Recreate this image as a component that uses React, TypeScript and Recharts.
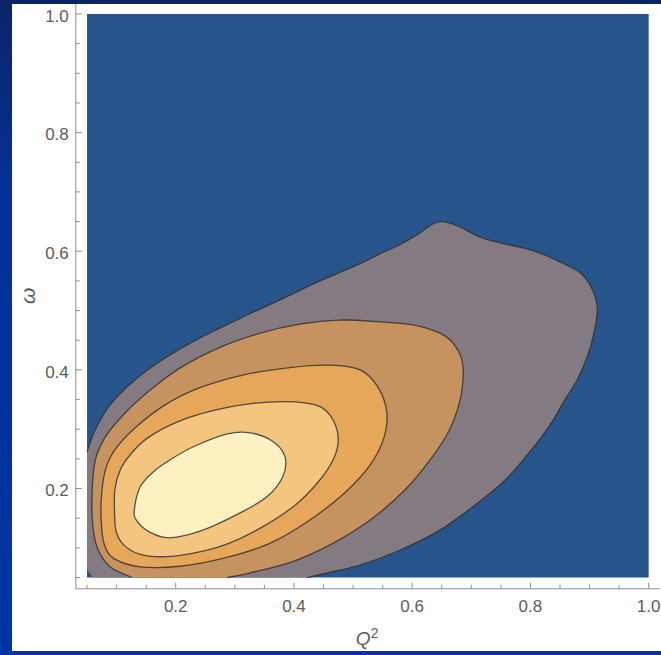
import React from "react";
import { ScatterChart, Scatter, XAxis, YAxis, Label } from "recharts";

type Pt = { x: number; y: number };

// axis ticks (minor every 0.05, labelled every 0.2)
const q2Ticks = [0.05, 0.1, 0.15, 0.2, 0.25, 0.3, 0.35, 0.4, 0.45, 0.5, 0.55, 0.6, 0.65, 0.7, 0.75, 0.8, 0.85, 0.9, 0.95, 1.0];
const omegaTicks = [0.05, 0.1, 0.15, 0.2, 0.25, 0.3, 0.35, 0.4, 0.45, 0.5, 0.55, 0.6, 0.65, 0.7, 0.75, 0.8, 0.85, 0.9, 0.95, 1.0];
const axisDomain: [number, number] = [0.031, 1.019];

// plot range (lowest level, filled blue)
const plotRange: Pt[] = [
  { x: 0.05, y: 0.05 }, { x: 1.0, y: 0.05 }, { x: 1.0, y: 1.0 }, { x: 0.05, y: 1.0 },
];

// level 1 contour (grey) - runs from left edge to bottom edge
const level1Line: Pt[] = [
  { x: 0.05, y: 0.262 }, { x: 0.064, y: 0.299 }, { x: 0.089, y: 0.341 }, { x: 0.131, y: 0.383 },
  { x: 0.182, y: 0.42 }, { x: 0.241, y: 0.454 }, { x: 0.309, y: 0.487 }, { x: 0.376, y: 0.518 },
  { x: 0.444, y: 0.55 }, { x: 0.512, y: 0.579 }, { x: 0.546, y: 0.596 }, { x: 0.579, y: 0.611 },
  { x: 0.613, y: 0.631 }, { x: 0.635, y: 0.646 }, { x: 0.652, y: 0.65 }, { x: 0.676, y: 0.643 },
  { x: 0.715, y: 0.624 }, { x: 0.749, y: 0.614 }, { x: 0.782, y: 0.607 }, { x: 0.816, y: 0.597 },
  { x: 0.85, y: 0.582 }, { x: 0.884, y: 0.564 }, { x: 0.901, y: 0.543 }, { x: 0.911, y: 0.518 },
  { x: 0.913, y: 0.496 }, { x: 0.906, y: 0.456 }, { x: 0.896, y: 0.422 }, { x: 0.879, y: 0.383 },
  { x: 0.858, y: 0.349 }, { x: 0.833, y: 0.307 }, { x: 0.799, y: 0.262 }, { x: 0.757, y: 0.214 },
  { x: 0.706, y: 0.172 }, { x: 0.647, y: 0.13 }, { x: 0.579, y: 0.096 }, { x: 0.512, y: 0.071 },
  { x: 0.461, y: 0.059 }, { x: 0.422, y: 0.05 },
];
const level1Edge: Pt[] = [{ x: 0.06, y: 0.05 }, { x: 0.05, y: 0.063 }];

// level 2 contour (brown) - bottom edge to bottom edge
const level2Line: Pt[] = [
  { x: 0.126, y: 0.05 }, { x: 0.089, y: 0.068 }, { x: 0.067, y: 0.101 }, { x: 0.059, y: 0.147 },
  { x: 0.059, y: 0.203 }, { x: 0.064, y: 0.248 }, { x: 0.081, y: 0.287 }, { x: 0.114, y: 0.327 },
  { x: 0.157, y: 0.366 }, { x: 0.207, y: 0.403 }, { x: 0.275, y: 0.438 }, { x: 0.343, y: 0.462 },
  { x: 0.41, y: 0.477 }, { x: 0.478, y: 0.484 }, { x: 0.546, y: 0.481 }, { x: 0.601, y: 0.476 },
  { x: 0.647, y: 0.462 }, { x: 0.669, y: 0.445 }, { x: 0.684, y: 0.417 }, { x: 0.686, y: 0.383 },
  { x: 0.679, y: 0.341 }, { x: 0.661, y: 0.295 }, { x: 0.63, y: 0.248 }, { x: 0.588, y: 0.198 },
  { x: 0.529, y: 0.147 }, { x: 0.461, y: 0.105 }, { x: 0.393, y: 0.075 }, { x: 0.326, y: 0.058 },
  { x: 0.287, y: 0.05 },
];

// level 3 contour (orange), closed
const level3Line: Pt[] = [
  { x: 0.075, y: 0.13 }, { x: 0.074, y: 0.181 }, { x: 0.081, y: 0.231 }, { x: 0.097, y: 0.265 },
  { x: 0.131, y: 0.302 }, { x: 0.182, y: 0.341 }, { x: 0.241, y: 0.37 }, { x: 0.317, y: 0.392 },
  { x: 0.393, y: 0.404 }, { x: 0.461, y: 0.408 }, { x: 0.512, y: 0.4 }, { x: 0.542, y: 0.371 },
  { x: 0.557, y: 0.329 }, { x: 0.552, y: 0.285 }, { x: 0.529, y: 0.24 }, { x: 0.486, y: 0.193 },
  { x: 0.427, y: 0.147 }, { x: 0.36, y: 0.108 }, { x: 0.283, y: 0.083 }, { x: 0.207, y: 0.069 },
  { x: 0.14, y: 0.068 }, { x: 0.097, y: 0.081 }, { x: 0.081, y: 0.101 },
];

// level 4 contour (light orange), closed
const level4Line: Pt[] = [
  { x: 0.097, y: 0.147 }, { x: 0.097, y: 0.198 }, { x: 0.106, y: 0.231 }, { x: 0.123, y: 0.257 },
  { x: 0.152, y: 0.285 }, { x: 0.202, y: 0.312 }, { x: 0.266, y: 0.332 }, { x: 0.334, y: 0.344 },
  { x: 0.402, y: 0.346 }, { x: 0.444, y: 0.338 }, { x: 0.466, y: 0.316 }, { x: 0.475, y: 0.282 },
  { x: 0.466, y: 0.248 }, { x: 0.441, y: 0.211 }, { x: 0.402, y: 0.172 }, { x: 0.346, y: 0.135 },
  { x: 0.283, y: 0.105 }, { x: 0.224, y: 0.09 }, { x: 0.174, y: 0.085 }, { x: 0.137, y: 0.09 },
  { x: 0.112, y: 0.105 }, { x: 0.1, y: 0.125 },
];

// level 5 contour (pale yellow peak), closed
const level5Line: Pt[] = [
  { x: 0.13, y: 0.164 }, { x: 0.14, y: 0.203 }, { x: 0.162, y: 0.228 }, { x: 0.19, y: 0.248 },
  { x: 0.229, y: 0.27 }, { x: 0.287, y: 0.292 }, { x: 0.326, y: 0.294 }, { x: 0.365, y: 0.279 },
  { x: 0.385, y: 0.253 }, { x: 0.381, y: 0.22 }, { x: 0.354, y: 0.186 }, { x: 0.309, y: 0.159 },
  { x: 0.246, y: 0.13 }, { x: 0.19, y: 0.117 }, { x: 0.157, y: 0.126 }, { x: 0.134, y: 0.146 },
];

const frameColor = "#8e8e8e";
const labelColor = "#5c5c5c";
const contourStroke = "rgba(45,45,45,0.8)";
const labelFont = "'Liberation Sans', Arial, sans-serif";

// catmull-rom through the scaled points
function smoothPath(p: Pt[], closed: boolean) {
  const n = p.length;
  if (n < 2) return "";
  const get = (i: number) => (closed ? p[(i + n) % n] : p[Math.max(0, Math.min(n - 1, i))]);
  let d = `M${p[0].x},${p[0].y}`;
  const segs = closed ? n : n - 1;
  for (let i = 0; i < segs; i++) {
    const p0 = get(i - 1), p1 = get(i), p2 = get(i + 1), p3 = get(i + 2);
    const c1x = p1.x + (p2.x - p0.x) / 6;
    const c1y = p1.y + (p2.y - p0.y) / 6;
    const c2x = p2.x - (p3.x - p1.x) / 6;
    const c2y = p2.y - (p3.y - p1.y) / 6;
    d += `C${c1x},${c1y} ${c2x},${c2y} ${p2.x},${p2.y}`;
  }
  if (closed) d += "Z";
  return d;
}

// fill region + contour line, drawn from the Scatter's pixel points
function contourShape(fill: string, lineCount: number, closed: boolean) {
  return (props: any) => {
    const pts: Pt[] = props.points || [];
    const line = pts.slice(0, lineCount);
    const edge = pts.slice(lineCount);
    let fillD: string;
    if (line.length === 0) {
      fillD = edge.map((q, i) => `${i === 0 ? "M" : "L"}${q.x},${q.y}`).join("") + "Z";
    } else if (closed) {
      fillD = smoothPath(line, true);
    } else {
      fillD = smoothPath(line, false) + edge.map((q) => `L${q.x},${q.y}`).join("") + "Z";
    }
    return (
      <g>
        <path d={fillD} fill={fill} stroke="none" />
        {line.length > 0 && (
          <path d={smoothPath(line, closed)} fill="none" stroke={contourStroke} strokeWidth={1.3} />
        )}
      </g>
    );
  };
}

const noDot = () => <g />;
const isMajor = (v: number) => Math.round(v * 100) % 20 === 0;

function BottomTick({ x, y, payload }: any) {
  const major = isMajor(payload.value);
  return (
    <g>
      <line x1={x} x2={x} y1={y} y2={y - (major ? 6 : 4)} stroke={frameColor} />
      {major && (
        <text x={x} y={y + 23.5} textAnchor="middle" fill={labelColor} fontSize={17} fontFamily={labelFont}>
          {payload.value.toFixed(1)}
        </text>
      )}
    </g>
  );
}

function TopTick({ x, y, payload }: any) {
  const major = isMajor(payload.value);
  return <line x1={x} x2={x} y1={y} y2={y + (major ? 6 : 4)} stroke={frameColor} />;
}

function LeftTick({ x, y, payload }: any) {
  const major = isMajor(payload.value);
  return (
    <g>
      <line x1={x} x2={x + (major ? 6 : 4)} y1={y} y2={y} stroke={frameColor} />
      {major && (
        <text x={x - 7} y={y + 7.6} textAnchor="end" fill={labelColor} fontSize={17} fontFamily={labelFont}>
          {payload.value.toFixed(1)}
        </text>
      )}
    </g>
  );
}

function RightTick({ x, y, payload }: any) {
  const major = isMajor(payload.value);
  return <line x1={x} x2={x - (major ? 6 : 4)} y1={y} y2={y} stroke={frameColor} />;
}

function QLabel({ viewBox }: any) {
  const cx = viewBox.x + viewBox.width / 2;
  return (
    <text x={cx - 12} y={viewBox.y + 56.5} fill={labelColor} fontFamily={labelFont} fontSize={19}>
      <tspan fontStyle="italic">Q</tspan>
      <tspan fontSize={14} dy={-7}>2</tspan>
    </text>
  );
}

function OmegaLabel({ viewBox }: any) {
  const cy = viewBox.y + viewBox.height / 2;
  return (
    <text
      x={27}
      y={cy}
      transform={`rotate(-90, 27, ${cy})`}
      textAnchor="middle"
      dominantBaseline="central"
      fill={labelColor}
      fontFamily={labelFont}
      fontStyle="italic"
      fontSize={21}
    >
      ω
    </text>
  );
}

export default function App() {
  return (
    <div
      style={{
        position: "absolute",
        left: 0,
        top: 0,
        width: 661,
        height: 655,
        overflow: "hidden",
        background: "linear-gradient(180deg, #0b2468 0%, #06309a 30%, #0035a6 100%)",
      }}
    >
      <div style={{ position: "absolute", left: 12, top: 4, width: 649, height: 647, background: "#fff", overflow: "hidden" }}>
        <div style={{ position: "absolute", left: -12, top: -4 }}>
          <ScatterChart width={661} height={655} margin={{ top: 2.7, right: 1.1, bottom: 0, left: 0 }}>
            <XAxis
              xAxisId="bottom"
              type="number"
              dataKey="x"
              domain={axisDomain}
              ticks={q2Ticks}
              interval={0}
              allowDataOverflow
              height={66.2}
              tickSize={0}
              tickMargin={0}
              tickLine={false}
              axisLine={{ stroke: frameColor }}
              tick={<BottomTick />}
            >
              <Label content={QLabel} />
            </XAxis>
            <XAxis
              xAxisId="top"
              orientation="top"
              type="number"
              dataKey="x"
              domain={axisDomain}
              ticks={q2Ticks}
              interval={0}
              allowDataOverflow
              height={0}
              tickSize={0}
              tickMargin={0}
              tickLine={false}
              axisLine={false}
              tick={<TopTick />}
            />
            <YAxis
              yAxisId="left"
              type="number"
              dataKey="y"
              domain={axisDomain}
              ticks={omegaTicks}
              interval={0}
              allowDataOverflow
              width={75.8}
              tickSize={0}
              tickMargin={0}
              tickLine={false}
              axisLine={{ stroke: frameColor }}
              tick={<LeftTick />}
            >
              <Label content={OmegaLabel} />
            </YAxis>
            <YAxis
              yAxisId="right"
              orientation="right"
              type="number"
              dataKey="y"
              domain={axisDomain}
              ticks={omegaTicks}
              interval={0}
              allowDataOverflow
              width={0}
              tickSize={0}
              tickMargin={0}
              tickLine={false}
              axisLine={{ stroke: frameColor }}
              tick={<RightTick />}
            />
            <Scatter xAxisId="top" yAxisId="right" data={plotRange} shape={noDot} isAnimationActive={false} />
            <Scatter xAxisId="bottom" yAxisId="left" data={plotRange} shape={noDot} line={contourShape("#27548a", 0, false)} lineType="joint" isAnimationActive={false} />
            <Scatter xAxisId="bottom" yAxisId="left" data={[...level1Line, ...level1Edge]} shape={noDot} line={contourShape("#837b81", level1Line.length, false)} lineType="joint" isAnimationActive={false} />
            <Scatter xAxisId="bottom" yAxisId="left" data={level2Line} shape={noDot} line={contourShape("#c6925f", level2Line.length, false)} lineType="joint" isAnimationActive={false} />
            <Scatter xAxisId="bottom" yAxisId="left" data={level3Line} shape={noDot} line={contourShape("#e6a75b", level3Line.length, true)} lineType="joint" isAnimationActive={false} />
            <Scatter xAxisId="bottom" yAxisId="left" data={level4Line} shape={noDot} line={contourShape("#f4c57f", level4Line.length, true)} lineType="joint" isAnimationActive={false} />
            <Scatter xAxisId="bottom" yAxisId="left" data={level5Line} shape={noDot} line={contourShape("#fef1c1", level5Line.length, true)} lineType="joint" isAnimationActive={false} />
          </ScatterChart>
        </div>
      </div>
    </div>
  );
}
